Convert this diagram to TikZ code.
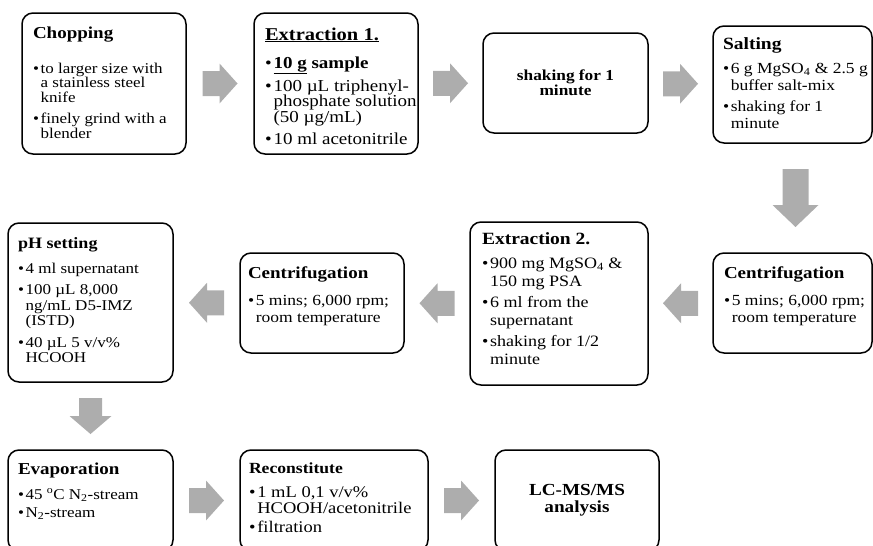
\documentclass[tikz,border=0pt]{standalone}
\usepackage{graphicx}
\usepackage{fontspec}
\setmainfont{Liberation Serif}
\usetikzlibrary{calc}
\definecolor{arrowgray}{RGB}{173,173,173}

\newlength{\bind}
\newlength{\bsepl}
\newlength{\mybs}
\newlength{\mytg}
\newcommand{\bitem}[1]{\par\vspace{\bsepl}\hangindent=\bind\hangafter=1\noindent\makebox[\bind][l]{\textbullet}#1\par}
% #1 body size, #2 line distance, #3 title size, #4 extra between bullets, #5 title-to-first-bullet, #6 title, #7 bullets
% text is squeezed vertically to 0.88 (distances given as they appear)
\newcommand{\boxtext}[7]{\scalebox{1}[0.88]{\parbox[t]{200pt}{\setlength{\parindent}{0pt}\setlength{\parskip}{0pt}%
\rightskip=0pt plus 1fil\relax
\setlength{\mybs}{\dimexpr #2*100/88\relax}%
\setlength{\bsepl}{\dimexpr #4*100/88\relax}%
\setlength{\mytg}{\dimexpr (#5-#2-#4)*100/88\relax}%
\fontsize{#1}{\mybs}\selectfont\setlength{\lineskiplimit}{-100pt}\setlength{\bind}{0.45em}%
\noindent{\fontsize{#3}{#3}\selectfont\bfseries #6\par}%
\vspace{\mytg}#7}}}
\newcommand{\ctext}[2]{\scalebox{1}[0.88]{\fontsize{#1}{#1}\selectfont\bfseries\begin{tabular}{@{}c@{}}#2\end{tabular}}}
% block arrow: #1 centre, #2 rotation, #3 length, #4 head length, #5 shaft width, #6 head width
\newcommand{\barrow}[6]{\fill[arrowgray, shift={#1}, rotate=#2]
  (-#3/2,-#5/2) -- (#3/2-#4,-#5/2) -- (#3/2-#4,-#6/2) -- (#3/2,0) -- (#3/2-#4,#6/2)
  -- (#3/2-#4,#5/2) -- (-#3/2,#5/2) -- cycle;}

\begin{document}
\begin{tikzpicture}[x=1pt,y=-1pt,
  pbox/.style={draw=black, line width=1.5pt, rounded corners=11pt, inner sep=0pt, outer sep=0pt, anchor=north west},
  txt/.style={anchor=base west, inner sep=0pt, outer sep=0pt},
  ctxt/.style={inner sep=0pt, outer sep=0pt}]
\useasboundingbox (0,0) rectangle (873,546);
\clip (0,0) rectangle (873,546);

% boxes
\node[pbox, minimum width=164pt, minimum height=141pt] (chop) at (22,13) {};
\node[pbox, minimum width=164pt, minimum height=141pt] (ext1) at (254,13) {};
\node[pbox, minimum width=165pt, minimum height=100pt] (shake) at (483,33) {};
\node[pbox, minimum width=159pt, minimum height=117pt] (salt) at (713,26) {};
\node[pbox, minimum width=159pt, minimum height=100pt] (centR) at (713,253) {};
\node[pbox, minimum width=178pt, minimum height=163pt] (ext2) at (470,222) {};
\node[pbox, minimum width=164pt, minimum height=100pt] (centM) at (240,253) {};
\node[pbox, minimum width=165pt, minimum height=159pt] (ph) at (8,223) {};
\node[pbox, minimum width=165pt, minimum height=101pt] (evap) at (8,450) {};
\node[pbox, minimum width=188pt, minimum height=101pt] (recon) at (240,450) {};
\node[pbox, minimum width=164pt, minimum height=101pt] (lcms) at (495,450) {};

% texts
\node[txt] (chop-t) at (33,38) {\boxtext{17pt}{14.5pt}{19pt}{7pt}{35pt}{Chopping}{%
  \bitem{to larger size with\\a stainless steel\\knife}%
  \bitem{finely grind with a\\blender}}};
\node[txt] (ext1-t) at (265,40) {\boxtext{19pt}{15.5pt}{20.5pt}{7.5pt}{28pt}{\underline{Extraction 1.}}{%
  \bitem{\textbf{\underline{10 g} sample}}%
  \bitem{100 µL triphenyl-\\phosphate solution\\(50 µg/mL)}%
  \bitem{10 ml acetonitrile}}};
\node[ctxt] (shake-t) at ($(shake.center)+(0,2)$) {\ctext{17.3pt}{shaking for 1\\minute}};
\node[txt] (salt-t) at (723,49) {\boxtext{17.5pt}{17pt}{19.5pt}{4pt}{24pt}{Salting}{%
  \bitem{6 g MgSO\textsubscript{4} \& 2.5 g\\buffer salt-mix}%
  \bitem{shaking for 1\\minute}}};
\node[txt] (centR-t) at (724,278) {\boxtext{17.5pt}{17pt}{19pt}{5pt}{27pt}{Centrifugation}{%
  \bitem{5 mins; 6,000 rpm;\\room temperature}}};
\node[txt] (ext2-t) at (482,244) {\boxtext{18pt}{18pt}{19.5pt}{3pt}{24pt}{Extraction 2.}{%
  \bitem{900 mg MgSO\textsubscript{4} \&\\150 mg PSA}%
  \bitem{6 ml from the\\supernatant}%
  \bitem{shaking for 1/2\\minute}}};
\node[txt] (centM-t) at (248,278) {\boxtext{17.5pt}{17pt}{19pt}{5pt}{27pt}{Centrifugation}{%
  \bitem{5 mins; 6,000 rpm;\\room temperature}}};
\node[txt] (ph-t) at (18,248) {\boxtext{17pt}{15.5pt}{18pt}{6pt}{25pt}{pH setting}{%
  \bitem{4 ml supernatant}%
  \bitem{100 µL 8,000\\ng/mL D5-IMZ\\(ISTD)}%
  \bitem{40 µL 5 v/v\%\\HCOOH}}};
\node[txt] (evap-t) at (18,474) {\boxtext{17pt}{17pt}{19pt}{1pt}{25pt}{Evaporation}{%
  \bitem{45 \textsuperscript{o}C N\textsubscript{2}-stream}%
  \bitem{N\textsubscript{2}-stream}}};
\node[txt] (recon-t) at (249,473) {\boxtext{18.5pt}{16pt}{17.6pt}{3pt}{24pt}{Reconstitute}{%
  \bitem{1 mL 0,1 v/v\%\\HCOOH/acetonitrile}%
  \bitem{filtration}}};
\node[ctxt] (lcms-t) at (lcms.center) {\ctext{19.2pt}{LC-MS/MS\\analysis}};

% block arrows
\barrow{($(chop.east)!0.5!(ext1.west)$)}{0}{35}{18}{25}{40}
\barrow{($(ext1.east)!0.5!(shake.west)$)}{0}{35}{18}{25}{40}
\barrow{($(shake.east)!0.5!(salt.west)$)}{0}{35}{18}{25}{40}
\barrow{($(salt.south)!0.5!(centR.north)+(3,0)$)}{-90}{58}{22}{26}{46}
\barrow{($(centR.west)!0.5!(ext2.east)$)}{180}{35}{18}{25}{40}
\barrow{($(ext2.west)!0.5!(centM.east)$)}{180}{35}{18}{25}{40}
\barrow{($(centM.west)!0.5!(ph.east)$)}{180}{35}{18}{25}{40}
\barrow{($(ph.south)!0.5!(evap.north)$)}{-90}{36}{18}{23}{42}
\barrow{($(evap.east)!0.5!(recon.west)$)}{0}{35}{18}{25}{40}
\barrow{($(recon.east)!0.5!(lcms.west)$)}{0}{35}{18}{25}{40}
\end{tikzpicture}
\end{document}
